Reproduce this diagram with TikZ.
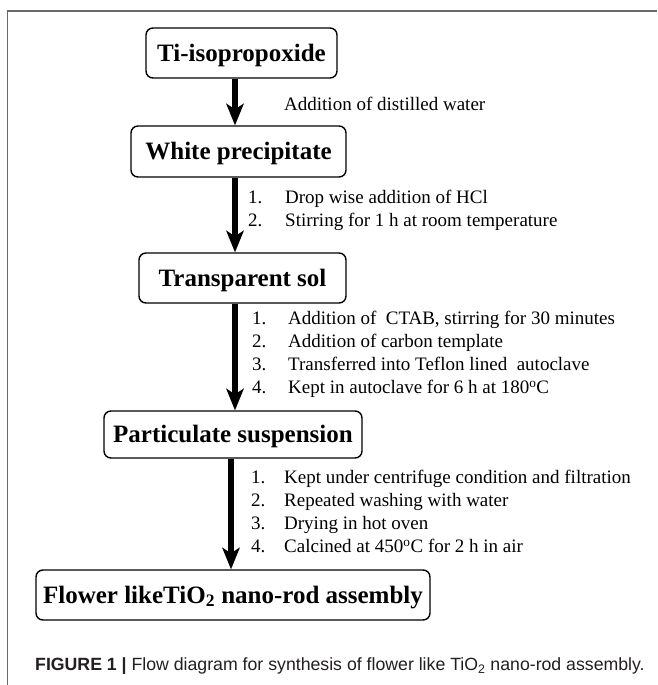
\documentclass[tikz,border=0pt]{standalone}
\usepackage{fontspec}
\setmainfont{Liberation Serif}
\newfontfamily\capfont{Liberation Sans}
\usetikzlibrary{arrows.meta}
\definecolor{framegray}{RGB}{105,105,105}
\definecolor{captext}{RGB}{35,31,32}
\begin{document}
\begin{tikzpicture}[x=1pt,y=-1pt,
  stagebox/.style={draw, line width=1.4pt, rounded corners=7pt, inner sep=0pt, align=center,
    font=\fontsize{25}{30}\selectfont\bfseries, text height=16.5pt, text depth=0pt},
  flowarrow/.style={line width=5.5pt, -{Stealth[width=18pt,length=22pt,inset=6pt,line width=0pt]}},
  steptext/.style={anchor=west, inner sep=0pt, font=\fontsize{19}{23}\selectfont, text height=12.6pt, text depth=0pt},
  captionstyle/.style={anchor=west, inner sep=0pt, font=\capfont\fontsize{17.7}{22}\selectfont, text height=12.7pt, text depth=0pt, text=captext},
]
\useasboundingbox (0,0) rectangle (657,685);
\fill[white] (0,0) rectangle (657,685);
% frame
\coordinate (fbl) at (7.5,685);
\coordinate (ftl) at (7.5,11);
\coordinate (ftr) at (657,11);
\draw[framegray, line width=1.5pt] (fbl) -- (ftl) -- (ftr);

% boxes
\node[stagebox, minimum width=191pt, minimum height=50pt] (b1) at (241.5,53) {Ti-isopropoxide};
\node[stagebox, minimum width=215pt, minimum height=51pt] (b2) at (238.5,151.5) {White precipitate};
\node[stagebox, minimum width=207pt, minimum height=50pt] (b3) at (242.5,278) {Transparent sol};
\node[stagebox, minimum width=258pt, minimum height=47pt] (b4) at (233,434.5) {Particulate suspension};
\node[stagebox, minimum width=394pt, minimum height=50pt] (b5) at (233,595) {Flower likeTiO\textsubscript{2} nano-rod assembly};

% arrows
\coordinate (ax1) at (235,0);
\coordinate (ax2) at (235,0);
\coordinate (ax3) at (235,0);
\coordinate (ax4) at (231,0);
\draw[flowarrow] (b1.south -| ax1) -- (b2.north -| ax1);
\draw[flowarrow] (b2.south -| ax2) -- (b3.north -| ax2);
\draw[flowarrow] (b3.south -| ax3) -- (b4.north -| ax3);
\draw[flowarrow] (b4.south -| ax4) -- (b5.north -| ax4);

% step texts
\node[steptext] (l1) at (284,104) {Addition of distilled water};

\node[steptext] (n21) at (248,197) {1.};
\node[steptext] (t21) at (285,197) {Drop wise addition of HCl};
\node[steptext] (n22) at (248,220) {2.};
\node[steptext] (t22) at (285,220) {Stirring for 1 h at room temperature};

\node[steptext] (n31) at (252,318) {1.};
\node[steptext] (t31) at (288,318) {Addition of \ CTAB, stirring for 30 minutes};
\node[steptext] (n32) at (252,341) {2.};
\node[steptext] (t32) at (288,341) {Addition of carbon template};
\node[steptext] (n33) at (252,364) {3.};
\node[steptext] (t33) at (288,364) {Transferred into Teflon lined \ autoclave};
\node[steptext] (n34) at (252,387) {4.};
\node[steptext] (t34) at (288,387) {Kept in autoclave for 6 h at 180\textsuperscript{o}C};

\node[steptext] (n41) at (251,477) {1.};
\node[steptext] (t41) at (284,477) {Kept under centrifuge condition and filtration};
\node[steptext] (n42) at (251,500) {2.};
\node[steptext] (t42) at (284,500) {Repeated washing with water};
\node[steptext] (n43) at (251,523) {3.};
\node[steptext] (t43) at (284,523) {Drying in hot oven};
\node[steptext] (n44) at (251,546) {4.};
\node[steptext] (t44) at (284,546) {Calcined at 450\textsuperscript{o}C for 2 h in air};

% caption
\node[captionstyle] (cap) at (35,664) {\textbf{FIGURE 1 |} Flow diagram for synthesis of flower like TiO\textsubscript{2} nano-rod assembly.};
\end{tikzpicture}
\end{document}
